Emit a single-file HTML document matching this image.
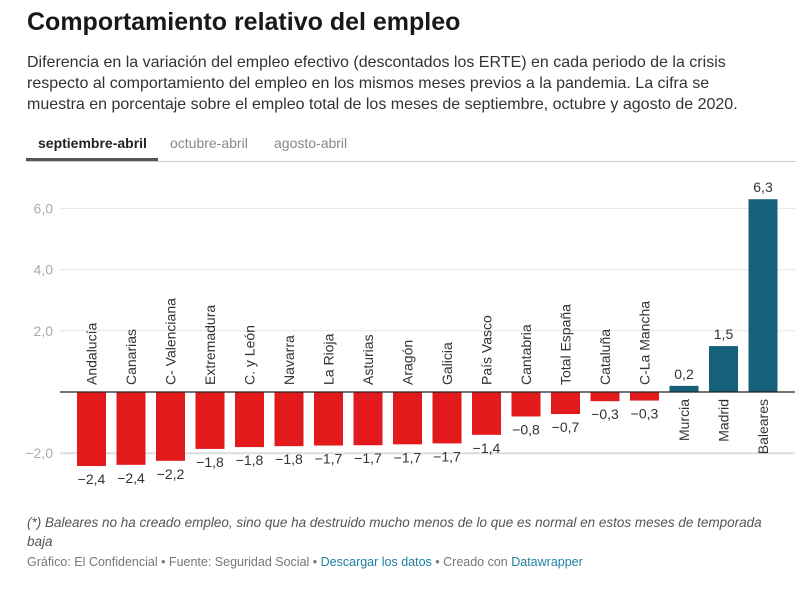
<!DOCTYPE html>
<html><head><meta charset="utf-8"><style>
body{margin:0;width:808px;height:599px;background:#fff;font-family:"Liberation Sans",sans-serif;overflow:hidden;position:relative}
.t{position:absolute;left:27px;top:8px;font-size:25px;font-weight:bold;color:#181818;margin:0}
.d{position:absolute;left:27px;top:52px;width:738px;font-size:16px;line-height:21px;color:#333}
.tabs{position:absolute;left:26px;top:133px;width:770px;height:28px;border-bottom:1px solid #ccc;font-size:14px}
.tab{position:absolute;top:2px;color:#888}
.note{position:absolute;left:27px;top:513px;width:760px;font-size:13.5px;line-height:19px;font-style:italic;color:#555}
.foot{position:absolute;left:27px;top:555px;font-size:12.5px;color:#777}
.foot a{color:#1d81a2;text-decoration:none}
</style></head><body>
<h1 class="t">Comportamiento relativo del empleo</h1>
<div class="d">Diferencia en la variación del empleo efectivo (descontados los ERTE) en cada periodo de la crisis respecto al comportamiento del empleo en los mismos meses previos a la pandemia. La cifra se muestra en porcentaje sobre el empleo total de los meses de septiembre, octubre y agosto de 2020.</div>
<div class="tabs">
<span class="tab" style="left:12px;color:#222;font-weight:bold">septiembre-abril</span>
<span class="tab" style="left:144px">octubre-abril</span>
<span class="tab" style="left:248px">agosto-abril</span>
<div style="position:absolute;left:0;top:25px;width:132px;height:3px;background:#555"></div>
</div>
<svg id="c" width="808" height="599" style="position:absolute;left:0;top:0"></svg>
<div class="note">(*) Baleares no ha creado empleo, sino que ha destruido mucho menos de lo que es normal en estos meses de temporada baja</div>
<div class="foot">Gráfico: El Confidencial • Fuente: Seguridad Social • <a>Descargar los datos</a> • Creado con <a>Datawrapper</a></div>
<script>
const categories=["Andalucía","Canarias","C- Valenciana","Extremadura","C. y León","Navarra","La Rioja","Asturias","Aragón","Galicia","País Vasco","Cantabria","Total España","Cataluña","C-La Mancha","Murcia","Madrid","Baleares"];
const values=[-2.42,-2.38,-2.25,-1.86,-1.8,-1.77,-1.75,-1.74,-1.71,-1.68,-1.4,-0.8,-0.72,-0.3,-0.28,0.2,1.5,6.3];
const valueLabels=["−2,4","−2,4","−2,2","−1,8","−1,8","−1,8","−1,7","−1,7","−1,7","−1,7","−1,4","−0,8","−0,7","−0,3","−0,3","0,2","1,5","6,3"];
const yTicks=[-2,2,4,6];
const yTickLabels=["−2,0","2,0","4,0","6,0"];
const svg=document.getElementById('c');const NS='http://www.w3.org/2000/svg';
const y=v=>392-v*30.6;
const x=i=>77+i*39.5;const bw=29;
function mk(t,a){const e=document.createElementNS(NS,t);for(const k in a)e.setAttribute(k,a[k]);svg.appendChild(e);return e;}
yTicks.forEach((t,i)=>{
 const l=mk('line',{x1:60,x2:795,y1:y(t),y2:y(t),stroke:t==-2?'#ddd':'#e6e6e6','stroke-width':t==-2?2:1});
 
 
 const tx=mk('text',{x:53,y:y(t)+5,'text-anchor':'end','font-size':14,fill:'#aaa','font-family':'Liberation Sans'});
 tx.textContent=yTickLabels[i];
 
 
});
values.forEach((v,i)=>{
 const neg=v<0;
 const r=mk('rect',{x:x(i),y:neg?y(0):y(v),width:bw,height:Math.abs(y(v)-y(0)),fill:neg?'#e31a1c':'#15607a'});
 
 
 const cx=x(i)+bw/2;
 const vl=mk('text',{x:cx,y:neg?y(v)+18:y(v)-7,'text-anchor':'middle','font-size':14,fill:'#333','font-family':'Liberation Sans'});
 vl.textContent=valueLabels[i];
 
 
 const ly=neg?385:399;
 const cl=mk('text',{x:0,y:0,'text-anchor':neg?'start':'end','font-size':14,fill:'#333','font-family':'Liberation Sans',transform:`translate(${cx+5},${ly}) rotate(-90)`});
 cl.textContent=categories[i];
 
 
});
const z=mk('line',{x1:60,x2:795,y1:y(0),y2:y(0),stroke:'#222','stroke-width':1.3});


</script>
</body></html>
